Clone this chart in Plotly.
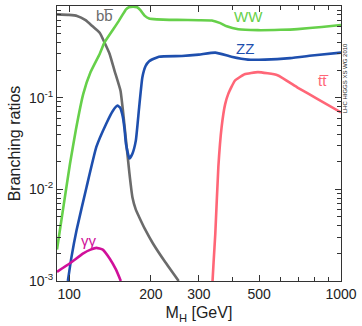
import math
import plotly.graph_objects as go

# ---- data ----
bb_x = [90.3, 100, 107, 115, 122, 129.6, 135, 141, 147, 154.6, 158, 162, 166.7, 171, 176, 181, 190, 203, 226, 253]
bb_y = [0.81, 0.80, 0.78, 0.70, 0.60, 0.51, 0.40, 0.30, 0.196, 0.119, 0.07, 0.034, 0.015, 0.0082, 0.006, 0.005, 0.0037, 0.0026, 0.0016, 0.001]

ww_x = [90.3, 95, 100.8, 106, 112.8, 120, 129.6, 135, 145, 152, 157.6, 162, 166, 172, 178, 183, 190, 197, 210, 250, 300, 335, 360, 380, 419, 495, 600, 692, 850, 1000]
ww_y = [0.0022, 0.006, 0.019, 0.045, 0.11, 0.19, 0.30, 0.40, 0.55, 0.68, 0.81, 0.92, 0.97, 0.985, 0.97, 0.90, 0.78, 0.73, 0.715, 0.705, 0.70, 0.695, 0.65, 0.60, 0.557, 0.545, 0.55, 0.56, 0.59, 0.62]

zz_x = [99, 102, 106.6, 116, 126, 137, 145, 150.7, 154, 157.6, 160, 162, 166.7, 171, 176, 181, 186, 191, 197, 214, 260, 300, 345, 395, 455, 525, 650, 800, 1000]
zz_y = [0.001, 0.0018, 0.0036, 0.0106, 0.029, 0.052, 0.072, 0.082, 0.078, 0.062, 0.045, 0.031, 0.0217, 0.0245, 0.034, 0.078, 0.166, 0.22, 0.25, 0.28, 0.285, 0.295, 0.31, 0.28, 0.26, 0.26, 0.27, 0.29, 0.31]

tt_x = [337, 340, 345, 354, 364, 375, 385, 407, 442, 495, 584, 692, 818, 1000]
tt_y = [0.001, 0.0016, 0.0033, 0.0175, 0.048, 0.085, 0.11, 0.153, 0.18, 0.19, 0.176, 0.129, 0.097, 0.069]

gg_x = [90.3, 100.8, 112.8, 120, 126, 133, 141, 149, 155]
gg_y = [0.00126, 0.00156, 0.002, 0.0022, 0.0023, 0.0022, 0.00176, 0.00132, 0.001]

x_ticks = [100, 200, 300, 500, 1000]
x_labels = ["100", "200", "300", "500", "1000"]
x_minor = [400, 600, 700, 800, 900]

y_ticks = [0.001, 0.01, 0.1, 1]
y_labels = ["10<sup>-3</sup>", "10<sup>-2</sup>", "10<sup>-1</sup>", "1"]
y_minor = [m * 10 ** e for e in (-3, -2, -1) for m in range(2, 10)]

series = [
    ("bb", bb_x, bb_y, "#6b6b6b"),
    ("WW", ww_x, ww_y, "#66d04a"),
    ("ZZ", zz_x, zz_y, "#1e4fae"),
    ("tt", tt_x, tt_y, "#ff6677"),
    ("γγ", gg_x, gg_y, "#d0109a"),
]

font = "Liberation Sans, Arial, sans-serif"

fig = go.Figure()
for name, xs, ys, col in series:
    fig.add_trace(go.Scatter(x=xs, y=ys, mode="lines", name=name,
                             line=dict(color=col, width=2.6, shape="spline", smoothing=0.4),
                             showlegend=False))

# curve labels: (pixel x, pixel y) converted to log-axis coordinates
labels = [
    ("bb\u0305", 105, 15, "#6b6b6b"),
    ("WW", 250, 16, "#66d04a"),
    ("ZZ", 247, 48, "#1e4fae"),
    ("tt\u0305", 326, 80, "#ff6677"),
    ("γγ", 89, 240, "#d0109a"),
]
for text, px, py, col in labels:
    fig.add_annotation(x=2 + (px - 69) / 275.0, y=(281 - py) / 92.0 - 3,
                       xref="x", yref="y", text=text, showarrow=False,
                       font=dict(family=font, size=15, color=col))

fig.add_annotation(x=1.03, y=0.87, xref="paper", yref="paper", text="LHC HIGGS XS WG 2010",
                   showarrow=False, textangle=-90, font=dict(family=font, size=6, color="#222"))

axis_common = dict(showgrid=False, zeroline=False, showline=True, linecolor="#333",
                   linewidth=1, mirror="ticks", ticks="inside", ticklen=6,
                   tickcolor="#333", tickfont=dict(family=font, size=14, color="#222"))

fig.update_xaxes(type="log", range=[math.log10(90.3), 3], tickvals=x_ticks, ticktext=x_labels,
                 minor=dict(tickvals=x_minor, ticks="inside", ticklen=4, tickcolor="#333"),
                 title=dict(text="M<sub>H</sub> [GeV]", font=dict(family=font, size=16, color="#222"), standoff=6),
                 **axis_common)
fig.update_yaxes(type="log", range=[-3, 0], tickvals=y_ticks, ticktext=y_labels,
                 minor=dict(tickvals=y_minor, ticks="inside", ticklen=4, tickcolor="#333"),
                 title=dict(text="Branching ratios", font=dict(family=font, size=16, color="#222"), standoff=4),
                 **axis_common)

fig.update_layout(width=362, height=326, margin=dict(l=57, r=18, t=5, b=45),
                  plot_bgcolor="white", paper_bgcolor="white")

fig.write_html("out.html")
